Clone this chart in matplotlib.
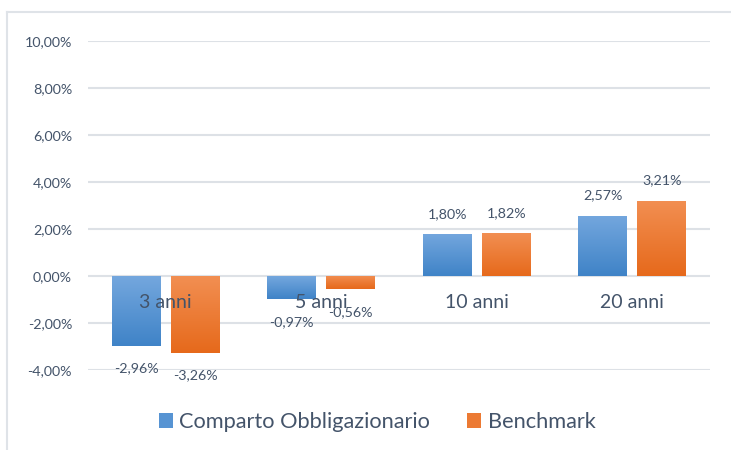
import numpy as np
import matplotlib
matplotlib.use("Agg")
import matplotlib.pyplot as plt
from matplotlib.patches import Patch
from matplotlib.lines import Line2D
from matplotlib.colors import LinearSegmentedColormap

categories = ["3 anni", "5 anni", "10 anni", "20 anni"]
comparto = [-2.96, -0.97, 1.80, 2.57]
benchmark = [-3.26, -0.56, 1.82, 3.21]
series_names = ["Comparto Obbligazionario", "Benchmark"]
yticks = [-4, -2, 0, 2, 4, 6, 8, 10]

plt.rcParams['font.family'] = ['Lato', 'DejaVu Sans']
TEXT = '#44546A'
GRID = '#dde1e6'

blue_top, blue_bot = '#74a7de', '#3f83c7'
orange_top, orange_bot = '#f28f52', '#e6691b'

fig = plt.figure(figsize=(7.31, 4.5), dpi=100)
ax = fig.add_axes([88/731, 1-370/450, (710-88)/731, (370-41)/450])

x = np.arange(len(categories))
w = 0.315
off = 0.1895

def fmt(v):
    return f"{v:.2f}".replace('.', ',') + '%'

def grad_bars(bars, top, bot):
    cmap = LinearSegmentedColormap.from_list('g', [bot, top])
    grad = np.linspace(0, 1, 256).reshape(-1, 1)
    for b in bars:
        x0, y0 = b.get_x(), b.get_y()
        x1, y1 = x0 + b.get_width(), y0 + b.get_height()
        lo, hi = min(y0, y1), max(y0, y1)
        im = ax.imshow(grad, cmap=cmap, aspect='auto', origin='lower',
                       extent=[x0, x1, lo, hi], zorder=3, interpolation='bilinear')
        im.set_clip_path(b)

b1 = ax.bar(x - off, comparto, w, color=blue_bot, zorder=2, linewidth=0)
b2 = ax.bar(x + off, benchmark, w, color=orange_bot, zorder=2, linewidth=0)
grad_bars(b1, blue_top, blue_bot)
grad_bars(b2, orange_top, orange_bot)

for bars, vals in ((b1, comparto), (b2, benchmark)):
    for b, v in zip(bars, vals):
        cx = b.get_x() + b.get_width() / 2
        dy = 20 if v >= 0 else -23
        ax.annotate(fmt(v), (cx, v), xytext=(0, dy * 0.72), textcoords='offset points',
                    ha='center', va='center', fontsize=10.3, color=TEXT,
                    annotation_clip=False, zorder=5)

for i, c in enumerate(categories):
    ax.annotate(c, (i, 0), xytext=(0, -27 * 0.72), textcoords='offset points',
                ha='center', va='center', fontsize=14, color=TEXT, zorder=6)

ax.set_xlim(-0.5, 3.5)
ax.set_ylim(-4, 10)
ax.set_yticks(yticks)
ax.set_yticklabels([f"{t:.2f}".replace('.', ',') + '%' for t in yticks])
ax.set_xticks([])
ax.tick_params(axis='y', length=0, pad=11.5, labelsize=10.3, labelcolor=TEXT)
for s in ax.spines.values():
    s.set_visible(False)
ax.yaxis.grid(True, color=GRID, linewidth=1.5, zorder=0)
ax.set_axisbelow(True)

handles = [Patch(facecolor='#5794d3', edgecolor='none'),
           Patch(facecolor='#ec7a33', edgecolor='none')]
fig.legend(handles, series_names, loc='center', bbox_to_anchor=(377/731, 1-422/450),
           ncol=2, frameon=False, fontsize=15.7, labelcolor=TEXT,
           handlelength=0.64, handleheight=0.64, handletextpad=0.3, columnspacing=1.7)

fig.add_artist(Line2D([7/731, 7/731], [0, 1-12/450], color='#dfe3e8', linewidth=1.5))
fig.add_artist(Line2D([7/731, 1], [1-12/450, 1-12/450], color='#dfe3e8', linewidth=1.5))

fig.savefig('out.png', dpi=100)
